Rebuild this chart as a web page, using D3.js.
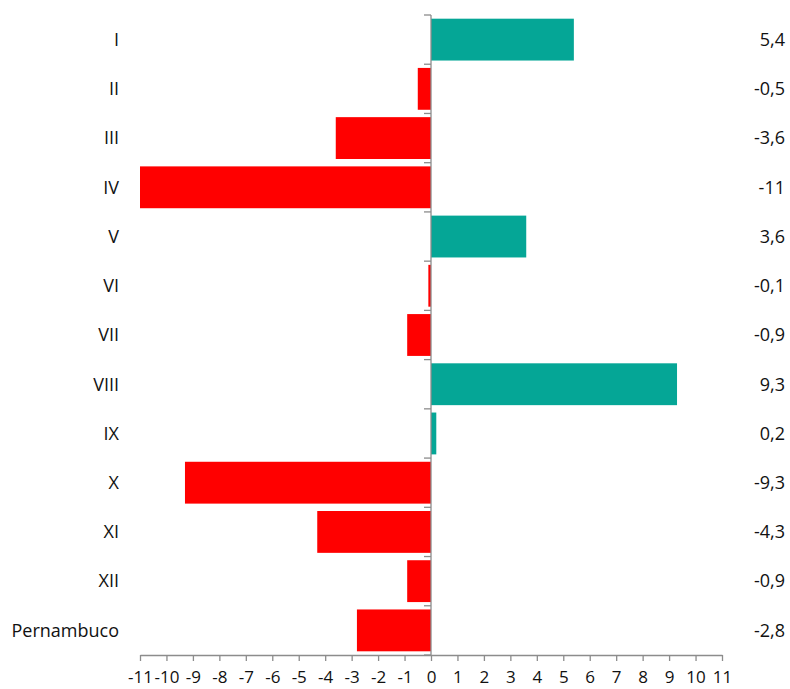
<!DOCTYPE html>
<html>
<head>
<meta charset="utf-8">
<script src="https://cdn.jsdelivr.net/npm/d3@7"></script>
<style>
  html, body { margin: 0; padding: 0; background: #fff; }
  svg { display: block; }
  text { font-family: "Open Sans", "Noto Sans", sans-serif; fill: #111; }
</style>
</head>
<body>
<svg id="chart" width="790" height="689"></svg>
<script>
const categories = ["I", "II", "III", "IV", "V", "VI", "VII", "VIII", "IX", "X", "XI", "XII", "Pernambuco"];
const values = [5.4, -0.5, -3.6, -11, 3.6, -0.1, -0.9, 9.3, 0.2, -9.3, -4.3, -0.9, -2.8];
const valueLabels = ["5,4", "-0,5", "-3,6", "-11", "3,6", "-0,1", "-0,9", "9,3", "0,2", "-9,3", "-4,3", "-0,9", "-2,8"];
const xTicks = d3.range(-11, 12);

const svg = d3.select("#chart");
const x = d3.scaleLinear().domain([-11, 11]).range([140, 722]);
const y = d3.scaleBand().domain(categories).range([15, 655]).paddingInner(0.15).paddingOuter(0.075);

const posColor = "#05A696", negColor = "#FF0000", axisColor = "#8C8C8C";

// bars
svg.append("g").selectAll("rect").data(categories).join("rect")
  .attr("x", (d, i) => x(Math.min(0, values[i])))
  .attr("width", (d, i) => Math.abs(x(values[i]) - x(0)))
  .attr("y", d => y(d))
  .attr("height", y.bandwidth())
  .attr("fill", (d, i) => values[i] >= 0 ? posColor : negColor);

// x axis
const xAxis = d3.axisBottom(x).tickValues(xTicks).tickSize(6).tickSizeOuter(0).tickPadding(10)
  .tickFormat(d => String(d));
const gx = svg.append("g").attr("transform", "translate(0,655)").call(xAxis);
gx.select(".domain").attr("stroke", axisColor).attr("stroke-width", 1.3);
gx.selectAll(".tick line").attr("stroke", axisColor).attr("stroke-width", 1.3);
gx.selectAll(".tick text").attr("font-size", 17).attr("fill", "#111")
  .attr("font-family", "'Open Sans', sans-serif");

// y axis (vertical line at zero with band-boundary ticks)
const step = y.step();
const boundaries = d3.range(categories.length + 1).map(i => 15 + i * step);
const gy = svg.append("g");
gy.append("line").attr("x1", x(0)).attr("x2", x(0)).attr("y1", 15).attr("y2", 655)
  .attr("stroke", axisColor).attr("stroke-width", 1.3);
gy.selectAll("line.tk").data(boundaries).join("line").attr("class", "tk")
  .attr("x1", x(0) - 7).attr("x2", x(0)).attr("y1", d => d).attr("y2", d => d)
  .attr("stroke", axisColor).attr("stroke-width", 1.3);

// category labels
svg.append("g").selectAll("text").data(categories).join("text")
  .attr("x", 119).attr("y", d => y(d) + y.bandwidth() / 2)
  .attr("dy", "0.35em").attr("text-anchor", "end").attr("font-size", 18)
  .text(d => d);

// value labels
svg.append("g").selectAll("text").data(categories).join("text")
  .attr("x", 785).attr("y", d => y(d) + y.bandwidth() / 2)
  .attr("dy", "0.35em").attr("text-anchor", "end").attr("font-size", 18)
  .text((d, i) => valueLabels[i]);
</script>
</body>
</html>
